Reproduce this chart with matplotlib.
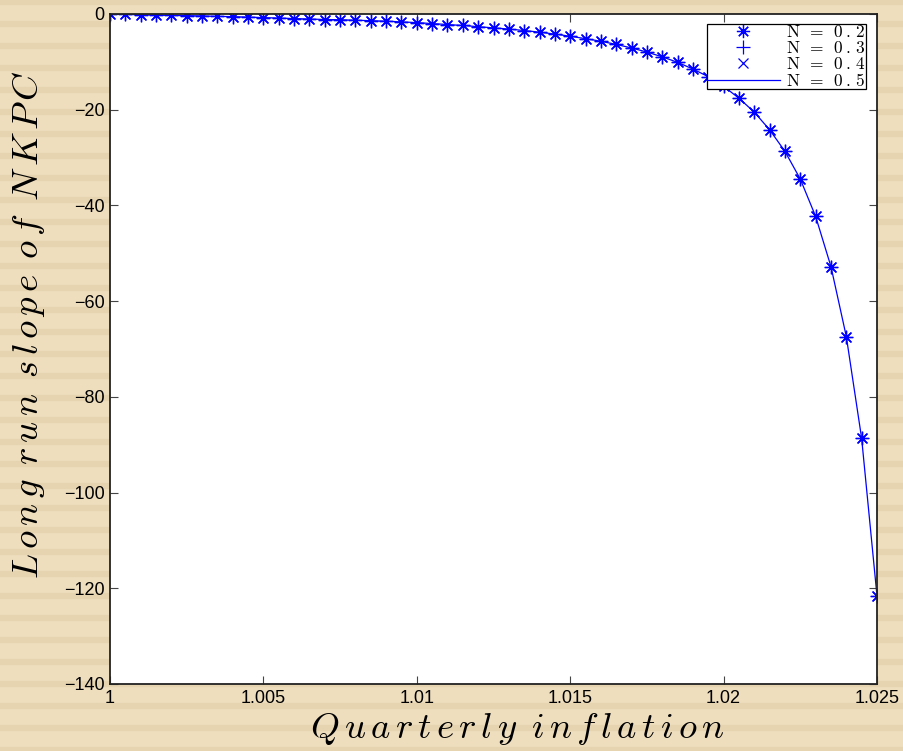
import matplotlib
matplotlib.use('Agg')
import matplotlib.pyplot as plt
import numpy as np

plt.rcParams['mathtext.fontset'] = 'cm'
plt.rcParams['font.family'] = ['Liberation Sans', 'DejaVu Sans']

# 季度通胀 (x) 与 NKPC 长期斜率 (y)
inflation = [1.0000, 1.0005, 1.0010, 1.0015, 1.0020, 1.0025, 1.0030, 1.0035, 1.0040, 1.0045,
             1.0050, 1.0055, 1.0060, 1.0065, 1.0070, 1.0075, 1.0080, 1.0085, 1.0090, 1.0095,
             1.0100, 1.0105, 1.0110, 1.0115, 1.0120, 1.0125, 1.0130, 1.0135, 1.0140, 1.0145,
             1.0150, 1.0155, 1.0160, 1.0165, 1.0170, 1.0175, 1.0180, 1.0185, 1.0190, 1.0195,
             1.0200, 1.0205, 1.0210, 1.0215, 1.0220, 1.0225, 1.0230, 1.0235, 1.0240, 1.0245,
             1.0250]
slope = [0.0, -0.1, -0.15, -0.2, -0.3, -0.35, -0.4, -0.5, -0.55, -0.65,
         -0.75, -0.85, -0.95, -1.05, -1.15, -1.2, -1.3, -1.4, -1.5, -1.65,
         -1.8, -2.0, -2.2, -2.4, -2.65, -2.9, -3.15, -3.45, -3.8, -4.2,
         -4.65, -5.15, -5.7, -6.35, -7.1, -7.95, -8.95, -10.1, -11.5, -13.1,
         -15.1, -17.6, -20.5, -24.2, -28.7, -34.5, -42.3, -52.8, -67.4, -88.7,
         -121.6]
labels = ['N = 0.2', 'N = 0.3', 'N = 0.4', 'N = 0.5']
xlab = 'Quarterly inflation'
ylab = 'Long run slope of NKPC'


def spaced(s):
    # MATLAB latex 那种字母间距
    words = [r'\,'.join(w) for w in s.split(' ')]
    return '$' + r'\ \,'.join(words) + '$'


def leg_tex(s):
    return '$\\mathrm{' + s.replace(' ', r'\ \,').replace('.', r'\,.\,') + '}$'


W, H = 904, 751
fig = plt.figure(figsize=(W / 100, H / 100), dpi=100)

# 条纹背景
bg = fig.add_axes([0, 0, 1, 1], zorder=-1)
bg.set_xlim(0, W)
bg.set_ylim(H, 0)
bg.axis('off')
bg.add_patch(plt.Rectangle((0, 0), W, H, color='#eedebe'))
for y0 in np.arange(-1, H, 22):
    bg.add_patch(plt.Rectangle((0, y0), W, 5, color='#e6d4b0'))

ax = fig.add_axes([110 / W, 1 - 684 / H, 767 / W, 670 / H])
ax.set_facecolor('white')

ax.plot(inflation, slope, linestyle='none', marker=(8, 2, 0), ms=9.5, mew=0.9,
        color='blue', label=labels[0])
ax.plot(inflation, slope, linestyle='none', marker='+', ms=9.5, mew=0.9,
        color='blue', label=labels[1])
ax.plot(inflation, slope, linestyle='none', marker='x', ms=6.5, mew=0.9,
        color='blue', label=labels[2])
ax.plot(inflation, slope, '-', lw=0.9, color='blue', label=labels[3])

ax.set_xlim(1, 1.025)
ax.set_ylim(-140, 0)
ax.set_xticks([1, 1.005, 1.01, 1.015, 1.02, 1.025])
ax.set_xticklabels(['1', '1.005', '1.01', '1.015', '1.02', '1.025'])
ax.set_yticks(np.arange(-140, 1, 20))
ax.set_yticklabels(['\u2212' + str(-v) if v < 0 else '0' for v in range(-140, 1, 20)])
ax.tick_params(direction='in', length=6, width=0.8, color='#444444',
               top=True, right=True, labelsize=13, pad=4)
for s in ax.spines.values():
    s.set_linewidth(1.3)
    s.set_color('#222222')

ax.set_xlabel(spaced(xlab), fontsize=26.5)
ax.xaxis.set_label_coords(0.531, -0.040)
ax.set_ylabel(spaced(ylab), fontsize=26.5)
ax.yaxis.set_label_coords(-0.082, 0.536)

handles = ax.get_legend_handles_labels()[0]
leg = ax.legend(handles, [leg_tex(l) for l in labels], loc='upper right',
                bbox_to_anchor=((866 - 110) / 767, 1 - 10 / 670),
                borderaxespad=0, fancybox=False, framealpha=1, edgecolor='black',
                fontsize=12.5, labelspacing=0.0, handlelength=4.2, handletextpad=0.4,
                borderpad=0.0)
leg.get_frame().set_linewidth(0.9)

fig.savefig('out.png', dpi=100)
